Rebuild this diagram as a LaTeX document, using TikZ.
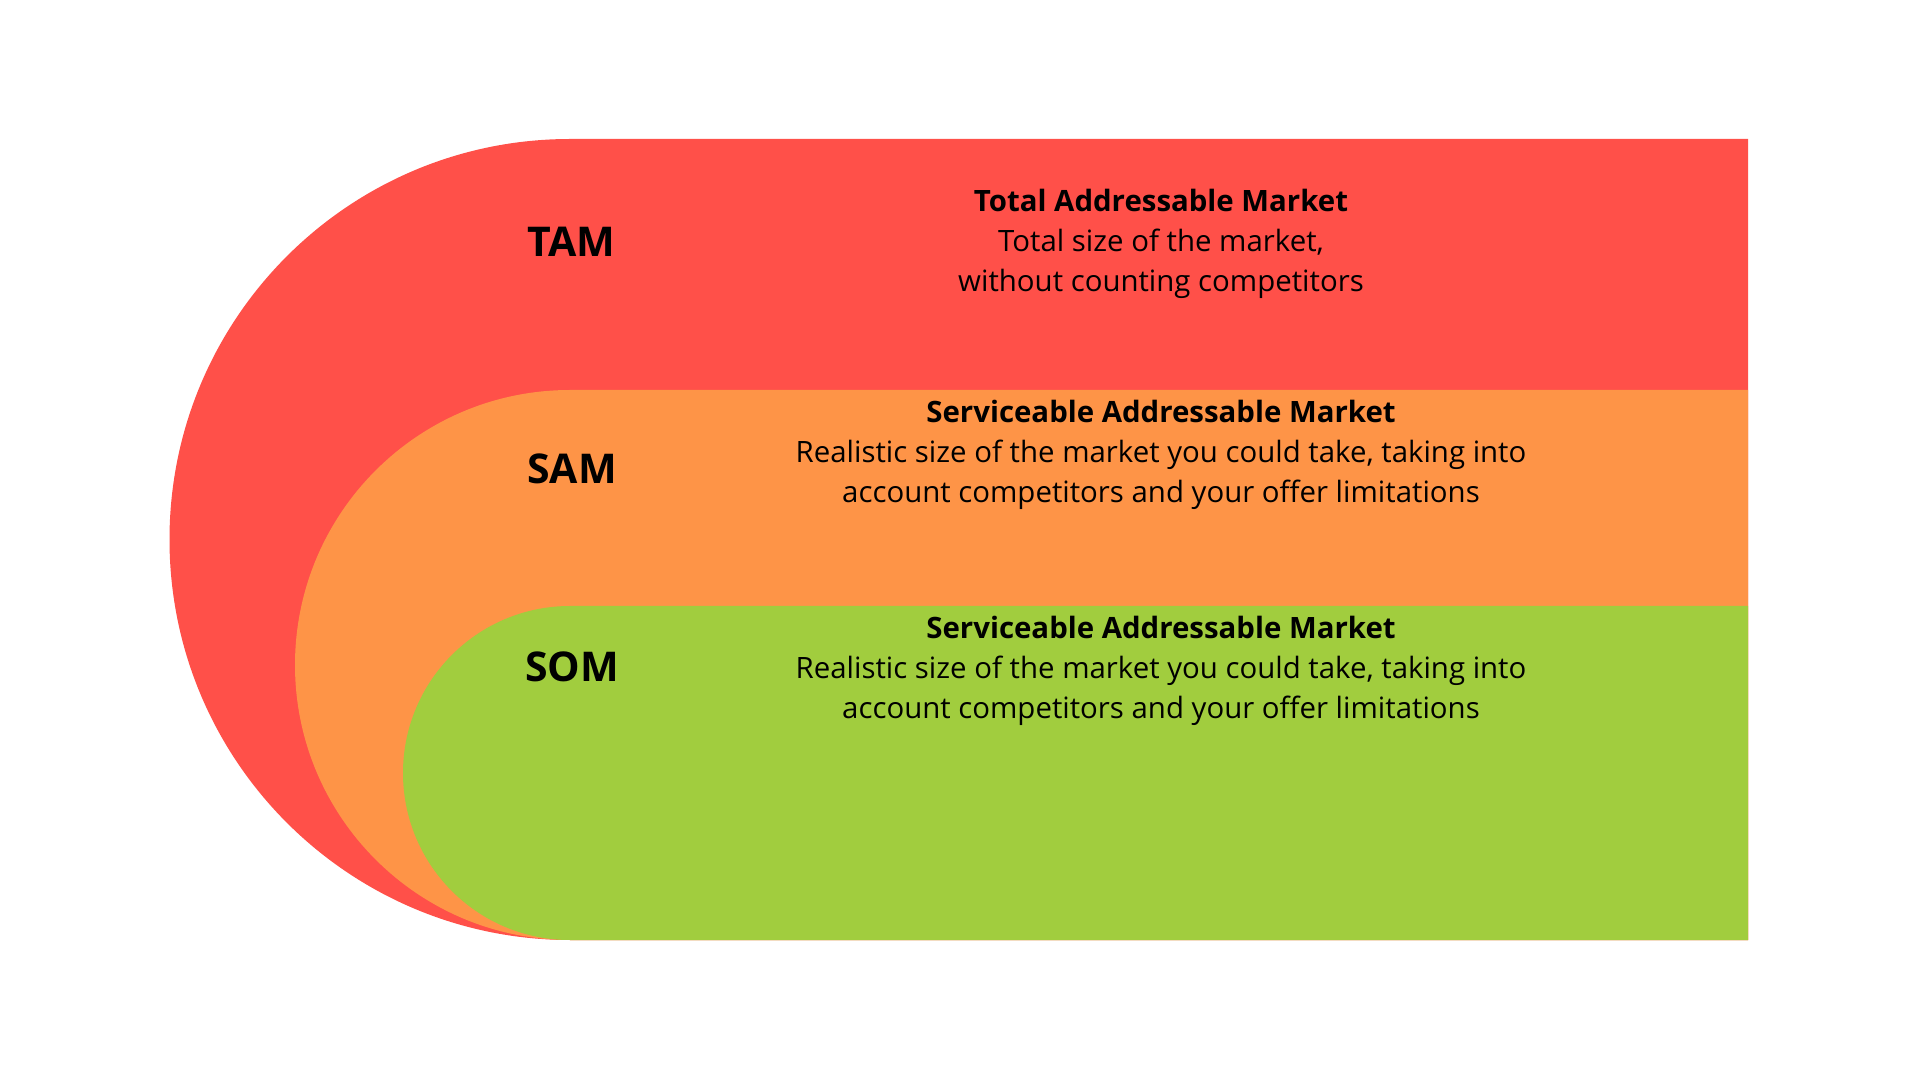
\documentclass[tikz,border=0pt]{standalone}
\usepackage{fontspec}
\setmainfont{Open Sans}
\usetikzlibrary{positioning}
\definecolor{tamred}{HTML}{FF5049}
\definecolor{samorange}{HTML}{FE9447}
\definecolor{somgreen}{HTML}{A1CD3E}

\begin{document}
\begin{tikzpicture}[x=1pt, y=1pt,
  tag/.style={font=\fontsize{41}{48}\selectfont\bfseries, text=black, inner sep=0pt},
  desc/.style={align=center, text=black, inner sep=0pt,
               font=\fontsize{29.4}{40}\selectfont},
]
\useasboundingbox (0,0) rectangle (1920,1080);

% bands: half disc on the left, flat block to the right
\foreach \col/\top/\r in {tamred/941/400.5, samorange/690/275, somgreen/474/167}
  \fill[\col] (1748,\top) -- (570,\top)
    arc[start angle=90, end angle=270, radius=\r] -- (1748,140) -- cycle;

\node[tag] (tam) at (571, 838) {TAM};
\node[tag] (sam) at (572, 611) {SAM};
\node[tag] (som) at (572, 413) {SOM};

\node[desc] (tamtext) at (1161, 836)
  {\textbf{Total Addressable Market}\\Total size of the market,\\without counting competitors};
\node[desc] (samtext) at (1161, 625)
  {\textbf{Serviceable Addressable Market}\\Realistic size of the market you could take, taking into\\account competitors and your offer limitations};
\node[desc] (somtext) at (1161, 409)
  {\textbf{Serviceable Addressable Market}\\Realistic size of the market you could take, taking into\\account competitors and your offer limitations};
\end{tikzpicture}
\end{document}
